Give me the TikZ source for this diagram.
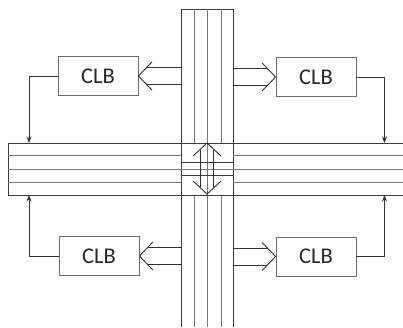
\documentclass[tikz,border=0pt]{standalone}
\usepackage{fontspec}
\setmainfont{Carlito}
\usetikzlibrary{arrows.meta,positioning,calc}
\definecolor{busline}{RGB}{60,60,60}
\definecolor{trackline}{RGB}{120,120,120}
\definecolor{boxline}{RGB}{105,105,105}
\definecolor{wireline}{RGB}{50,50,50}

% hollow feed arrow from the routing bus into a CLB
% #1 node, #2 side anchor, #3 +1 for east side, -1 for west side
\newcommand{\feedarrow}[3]{%
  \draw[feed] ($(#1.#2)+(#3*13.5,-14)$) -- (#1.#2) -- ($(#1.#2)+(#3*13.5,14)$);
  \draw[feed] ($(#1.#2)+(#3*8.2,-8.5)$) -- ++(#3*34.8,0);
  \draw[feed] ($(#1.#2)+(#3*8.2,8.5)$) -- ++(#3*34.8,0);
}

\begin{document}
\begin{tikzpicture}[x=1pt, y=-1pt, >={Stealth[length=6.5pt,width=5pt]}]
\tikzset{
  clb/.style={draw=boxline, line width=0.9pt, minimum width=80pt, minimum height=39pt, inner sep=0pt, text=black!85, font=\fontsize{22.5}{26}\selectfont},
  bus/.style={draw=busline, line width=1pt},
  track/.style={draw=trackline, line width=1pt},
  feed/.style={draw=wireline, line width=0.9pt},
  link/.style={->, draw=wireline, line width=0.9pt}
}
\useasboundingbox (0,0) rectangle (403,327);

% vertical routing channel
\draw[bus] (181,327) -- (181,9) -- (233,9) -- (233,327);
\draw[track] (207,9) -- (207,327);
\foreach \x in {194,221} {
  \draw[track] (\x,9) -- (\x,143);
  \draw[track] (\x,195) -- (\x,327);
}

% horizontal routing channel
\draw[bus] (403,143) -- (8,143) -- (8,195) -- (403,195);
\draw[track] (8,169) -- (403,169);
\foreach \y in {155,182} {
  \draw[track] (8,\y) -- (181,\y);
  \draw[track] (233,\y) -- (403,\y);
}

% switch box in the middle
\draw[bus] (181,162) -- (233,162);
\draw[bus] (181,175) -- (233,175);
\draw[feed] (193,156) -- (207,143) -- (221,156);
\draw[feed] (193,181) -- (207,194) -- (221,181);
\draw[feed] (200.5,149.5) -- (200.5,187.5);
\draw[feed] (213.5,149.5) -- (213.5,187.5);

% logic blocks
\node[clb] (clbtl) at (98,76) {CLB};
\node[clb] (clbtr) at (316,77) {CLB};
\node[clb] (clbbl) at (99,256) {CLB};
\node[clb] (clbbr) at (316,256.5) {CLB};

\feedarrow{clbtl}{east}{1}
\feedarrow{clbtr}{west}{-1}
\feedarrow{clbbl}{east}{1}
\feedarrow{clbbr}{west}{-1}

% outputs back onto the horizontal channel
\coordinate (intl) at (29,143);
\coordinate (intr) at (384.5,143);
\coordinate (inbl) at (29,195);
\coordinate (inbr) at (384.5,195);
\draw[link] (clbtl.west) -| (intl);
\draw[link] (clbtr.east) -| (intr);
\draw[link] (clbbl.west) -| (inbl);
\draw[link] (clbbr.east) -| (inbr);
\end{tikzpicture}
\end{document}
